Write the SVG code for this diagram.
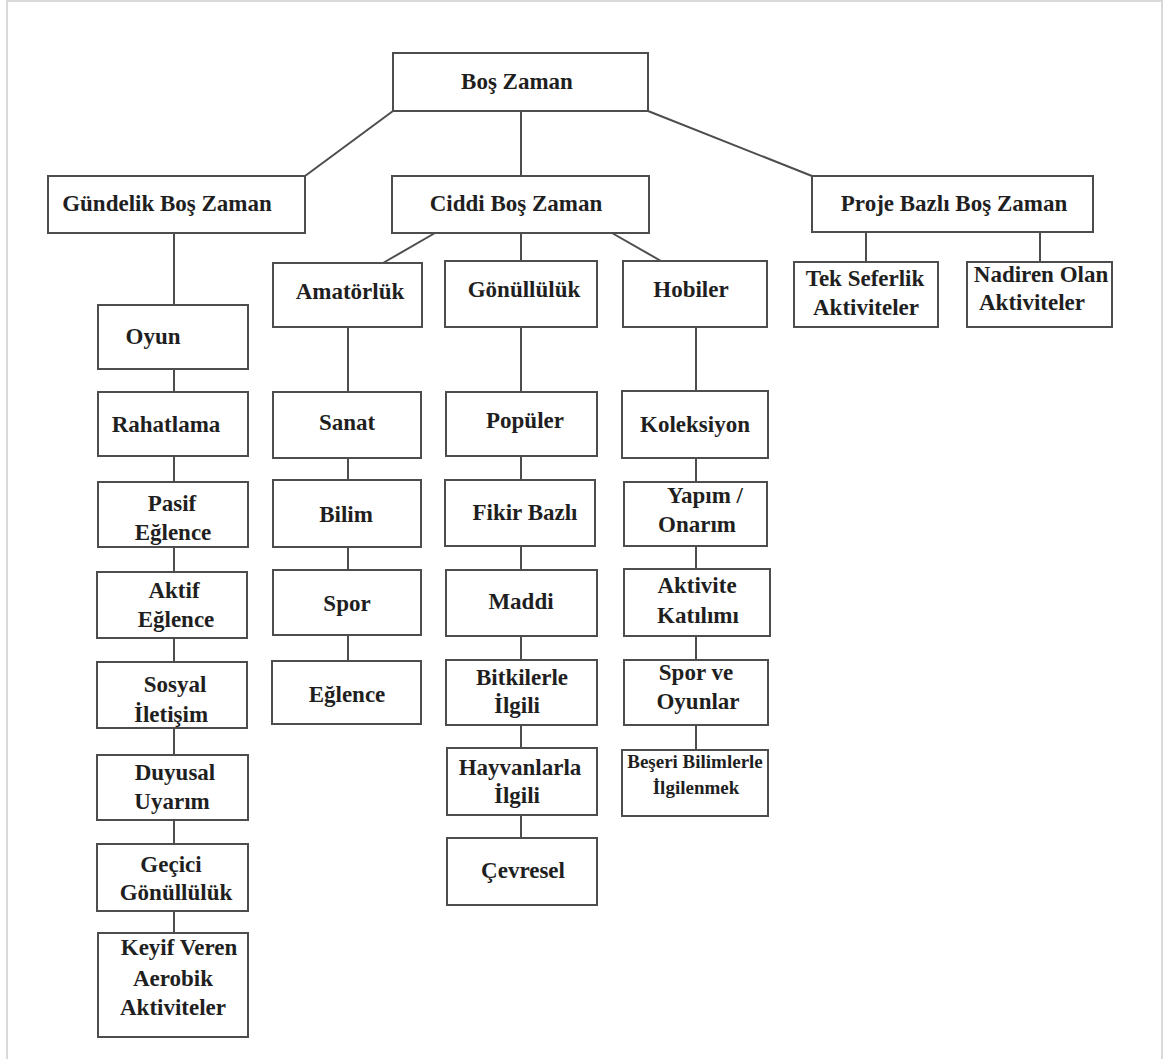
<svg xmlns="http://www.w3.org/2000/svg" width="1163" height="1059" viewBox="0 0 1163 1059">
<style>
.box{fill:#fff;stroke:#4d4d4d;stroke-width:2}
.t{font-family:"Liberation Serif","Times New Roman",serif;font-weight:bold;font-size:23px;fill:#1f1f1f;text-anchor:middle}
.s{font-size:19px}
.c{stroke:#4d4d4d;stroke-width:2;fill:none}
</style>
<rect width="1163" height="1059" fill="#fff"/>
<path d="M7 1059 V1 H1162 V1059" fill="none" stroke="#d9d9d9" stroke-width="2"/>
<g id="connectors">
<line class="c" x1="393" y1="111" x2="305" y2="176"/>
<line class="c" x1="521" y1="111" x2="521" y2="176"/>
<line class="c" x1="648" y1="111" x2="812" y2="176"/>
<line class="c" x1="174" y1="233" x2="174" y2="305"/>
<line class="c" x1="435" y1="233" x2="383" y2="263"/>
<line class="c" x1="521" y1="233" x2="521" y2="261"/>
<line class="c" x1="612" y1="233" x2="661" y2="261"/>
<line class="c" x1="866" y1="232" x2="866" y2="262"/>
<line class="c" x1="1040" y1="232" x2="1040" y2="262"/>
<line class="c" x1="174" y1="369" x2="174" y2="392"/>
<line class="c" x1="174" y1="456" x2="174" y2="482"/>
<line class="c" x1="174" y1="547" x2="174" y2="572"/>
<line class="c" x1="174" y1="638" x2="174" y2="662"/>
<line class="c" x1="174" y1="728" x2="174" y2="755"/>
<line class="c" x1="174" y1="820" x2="174" y2="844"/>
<line class="c" x1="174" y1="911" x2="174" y2="933"/>
<line class="c" x1="348" y1="327" x2="348" y2="392"/>
<line class="c" x1="348" y1="458" x2="348" y2="480"/>
<line class="c" x1="348" y1="547" x2="348" y2="570"/>
<line class="c" x1="348" y1="635" x2="348" y2="661"/>
<line class="c" x1="521" y1="327" x2="521" y2="392"/>
<line class="c" x1="521" y1="456" x2="521" y2="480"/>
<line class="c" x1="521" y1="546" x2="521" y2="570"/>
<line class="c" x1="521" y1="636" x2="521" y2="660"/>
<line class="c" x1="521" y1="725" x2="521" y2="748"/>
<line class="c" x1="521" y1="815" x2="521" y2="838"/>
<line class="c" x1="696" y1="327" x2="696" y2="391"/>
<line class="c" x1="696" y1="458" x2="696" y2="482"/>
<line class="c" x1="696" y1="546" x2="696" y2="569"/>
<line class="c" x1="696" y1="636" x2="696" y2="660"/>
<line class="c" x1="696" y1="725" x2="696" y2="750"/>
</g>
<g id="bos-zaman"><rect class="box" x="393" y="53" width="255" height="58"/><text class="t" x="517" y="89">Boş Zaman</text></g>
<g id="gundelik"><rect class="box" x="48" y="176" width="257" height="57"/><text class="t" x="167" y="211">Gündelik Boş Zaman</text></g>
<g id="ciddi"><rect class="box" x="392" y="176" width="257" height="57"/><text class="t" x="516" y="211">Ciddi Boş Zaman</text></g>
<g id="proje"><rect class="box" x="812" y="176" width="281" height="56"/><text class="t" x="954" y="211">Proje Bazlı Boş Zaman</text></g>
<g id="amatorluk"><rect class="box" x="273" y="263" width="149" height="64"/><text class="t" x="350" y="299">Amatörlük</text></g>
<g id="gonulluluk"><rect class="box" x="445" y="261" width="152" height="66"/><text class="t" x="524" y="297">Gönüllülük</text></g>
<g id="hobiler"><rect class="box" x="623" y="261" width="144" height="66"/><text class="t" x="691" y="297">Hobiler</text></g>
<g id="tek-seferlik"><rect class="box" x="794" y="262" width="144" height="65"/><text class="t" x="865" y="286">Tek Seferlik</text><text class="t" x="866" y="315">Aktiviteler</text></g>
<g id="nadiren"><rect class="box" x="967" y="262" width="145" height="65"/><text class="t" x="1041" y="282">Nadiren Olan</text><text class="t" x="1032" y="310">Aktiviteler</text></g>
<g id="oyun"><rect class="box" x="98" y="305" width="150" height="64"/><text class="t" x="153" y="344">Oyun</text></g>
<g id="rahatlama"><rect class="box" x="98" y="392" width="150" height="64"/><text class="t" x="166" y="432">Rahatlama</text></g>
<g id="pasif-eglence"><rect class="box" x="98" y="482" width="150" height="65"/><text class="t" x="172" y="511">Pasif</text><text class="t" x="173" y="540">Eğlence</text></g>
<g id="aktif-eglence"><rect class="box" x="97" y="572" width="150" height="66"/><text class="t" x="174" y="598">Aktif</text><text class="t" x="176" y="627">Eğlence</text></g>
<g id="sosyal-iletisim"><rect class="box" x="97" y="662" width="150" height="66"/><text class="t" x="175" y="692">Sosyal</text><text class="t" x="171" y="722">İletişim</text></g>
<g id="duyusal-uyarim"><rect class="box" x="97" y="755" width="151" height="65"/><text class="t" x="175" y="780">Duyusal</text><text class="t" x="172" y="809">Uyarım</text></g>
<g id="gecici-gonulluluk"><rect class="box" x="97" y="844" width="151" height="67"/><text class="t" x="171" y="872">Geçici</text><text class="t" x="176" y="900">Gönüllülük</text></g>
<g id="keyif-veren"><rect class="box" x="98" y="933" width="150" height="104"/><text class="t" x="179" y="955">Keyif Veren</text><text class="t" x="173" y="986">Aerobik</text><text class="t" x="173" y="1015">Aktiviteler</text></g>
<g id="sanat"><rect class="box" x="273" y="392" width="148" height="66"/><text class="t" x="347" y="430">Sanat</text></g>
<g id="bilim"><rect class="box" x="273" y="480" width="148" height="67"/><text class="t" x="346" y="522">Bilim</text></g>
<g id="spor"><rect class="box" x="273" y="570" width="148" height="65"/><text class="t" x="347" y="611">Spor</text></g>
<g id="eglence"><rect class="box" x="272" y="661" width="149" height="63"/><text class="t" x="347" y="702">Eğlence</text></g>
<g id="populer"><rect class="box" x="446" y="392" width="151" height="64"/><text class="t" x="525" y="428">Popüler</text></g>
<g id="fikir-bazli"><rect class="box" x="445" y="480" width="150" height="66"/><text class="t" x="525" y="520">Fikir Bazlı</text></g>
<g id="maddi"><rect class="box" x="446" y="570" width="151" height="66"/><text class="t" x="521" y="609">Maddi</text></g>
<g id="bitkilerle"><rect class="box" x="446" y="660" width="151" height="65"/><text class="t" x="522" y="685">Bitkilerle</text><text class="t" x="517" y="713">İlgili</text></g>
<g id="hayvanlarla"><rect class="box" x="447" y="748" width="150" height="67"/><text class="t" x="520" y="775">Hayvanlarla</text><text class="t" x="517" y="803">İlgili</text></g>
<g id="cevresel"><rect class="box" x="447" y="838" width="150" height="67"/><text class="t" x="523" y="878">Çevresel</text></g>
<g id="koleksiyon"><rect class="box" x="622" y="391" width="146" height="67"/><text class="t" x="695" y="432">Koleksiyon</text></g>
<g id="yapim-onarim"><rect class="box" x="624" y="482" width="143" height="64"/><text class="t" x="705" y="503">Yapım /</text><text class="t" x="697" y="532">Onarım</text></g>
<g id="aktivite-katilimi"><rect class="box" x="624" y="569" width="146" height="67"/><text class="t" x="697" y="593">Aktivite</text><text class="t" x="698" y="623">Katılımı</text></g>
<g id="spor-ve-oyunlar"><rect class="box" x="624" y="660" width="144" height="65"/><text class="t" x="696" y="680">Spor ve</text><text class="t" x="698" y="709">Oyunlar</text></g>
<g id="beseri"><rect class="box" x="622" y="750" width="146" height="66"/><text class="t s" x="695" y="768">Beşeri Bilimlerle</text><text class="t s" x="696" y="794">İlgilenmek</text></g>
</svg>
